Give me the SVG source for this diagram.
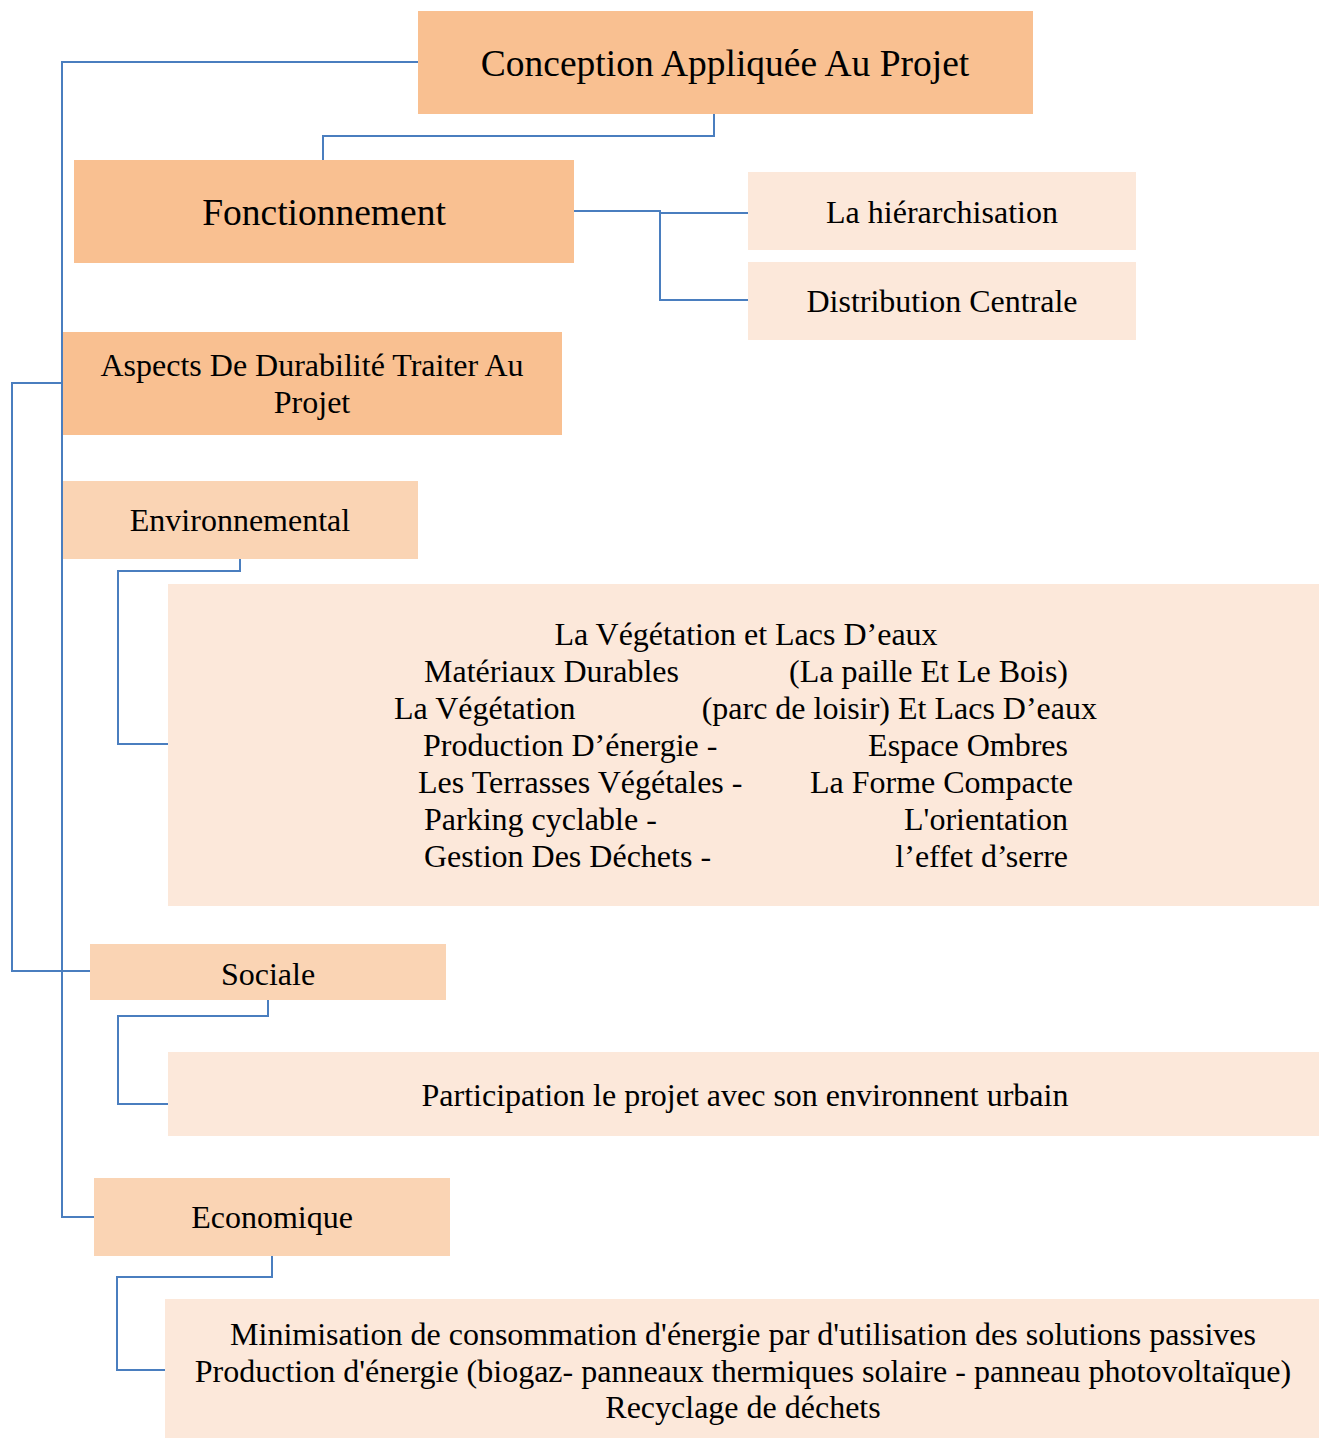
<svg xmlns="http://www.w3.org/2000/svg" width="1319" height="1438" viewBox="0 0 1319 1438">
  <style>
    .lvl1 { fill: #F9C091; }
    .lvl2 { fill: #FAD4B4; }
    .leaf { fill: #FCE8DA; }
    text { font-family: "Liberation Serif", "Times New Roman", serif; fill: #000; }
    .big { font-size: 37.5px; }
    .txt { font-size: 32px; }
    .c { text-anchor: middle; }
    .e { text-anchor: end; }
    .link { fill: none; stroke: #4A7EBF; stroke-width: 2; }
  </style>
  <rect width="1319" height="1438" fill="#fff"/>

  <g id="connectors">
    <path class="link" d="M418 62 H62 V1217 H94"/>
    <path class="link" d="M714 113 V136 H323 V160"/>
    <path class="link" d="M573 211 H660 V300 H748 M660 213 H748"/>
    <path class="link" d="M62 383 H12 V971 H90"/>
    <path class="link" d="M240 558 V571 H118 V744 H168"/>
    <path class="link" d="M268 999 V1016 H118 V1104 H168"/>
    <path class="link" d="M272 1255 V1277 H117 V1370 H165"/>
  </g>

  <g id="conception">
    <rect class="lvl1" x="418" y="11" width="615" height="103"/>
    <text class="big c" x="725" y="76">Conception Appliquée Au Projet</text>
  </g>

  <g id="fonctionnement">
    <rect class="lvl1" x="74" y="160" width="500" height="103"/>
    <text class="big c" x="324" y="225">Fonctionnement</text>
  </g>

  <g id="hierarchisation">
    <rect class="leaf" x="748" y="172" width="388" height="78"/>
    <text class="txt c" x="942" y="223">La hiérarchisation</text>
  </g>

  <g id="distribution">
    <rect class="leaf" x="748" y="262" width="388" height="78"/>
    <text class="txt c" x="942" y="312">Distribution Centrale</text>
  </g>

  <g id="aspects">
    <rect class="lvl1" x="63" y="332" width="499" height="103"/>
    <text class="txt c" x="312" y="376">Aspects De Durabilité Traiter Au</text>
    <text class="txt c" x="312" y="413">Projet</text>
  </g>

  <g id="environnemental">
    <rect class="lvl2" x="63" y="481" width="355" height="78"/>
    <text class="txt c" x="240" y="531">Environnemental</text>
  </g>

  <g id="environnemental-detail">
    <rect class="leaf" x="168" y="584" width="1151" height="322"/>
    <text class="txt c" x="746" y="645">La Végétation et Lacs D’eaux</text>
    <text class="txt" x="424" y="682">Matériaux Durables</text>
    <text class="txt e" x="1068" y="682">(La paille Et Le Bois)</text>
    <text class="txt" x="394" y="719">La Végétation</text>
    <text class="txt e" x="1097" y="719">(parc de loisir) Et Lacs D’eaux</text>
    <text class="txt" x="423" y="756">Production D’énergie -</text>
    <text class="txt e" x="1068" y="756">Espace Ombres</text>
    <text class="txt" x="418" y="793">Les Terrasses Végétales -</text>
    <text class="txt e" x="1073" y="793">La Forme Compacte</text>
    <text class="txt" x="424" y="830">Parking cyclable -</text>
    <text class="txt e" x="1068" y="830">L'orientation</text>
    <text class="txt" x="424" y="867">Gestion Des Déchets -</text>
    <text class="txt e" x="1068" y="867">l’effet d’serre</text>
  </g>

  <g id="sociale">
    <rect class="lvl2" x="90" y="944" width="356" height="56"/>
    <text class="txt c" x="268" y="985">Sociale</text>
  </g>

  <g id="sociale-detail">
    <rect class="leaf" x="168" y="1052" width="1151" height="84"/>
    <text class="txt c" x="745" y="1106">Participation le projet avec son environnent urbain</text>
  </g>

  <g id="economique">
    <rect class="lvl2" x="94" y="1178" width="356" height="78"/>
    <text class="txt c" x="272" y="1228">Economique</text>
  </g>

  <g id="economique-detail">
    <rect class="leaf" x="165" y="1299" width="1154" height="139"/>
    <text class="txt c" x="743" y="1345">Minimisation de consommation d'énergie par d'utilisation des solutions passives</text>
    <text class="txt c" x="743" y="1382">Production d'énergie (biogaz- panneaux thermiques solaire - panneau photovoltaïque)</text>
    <text class="txt c" x="743" y="1418">Recyclage de déchets</text>
  </g>
</svg>
